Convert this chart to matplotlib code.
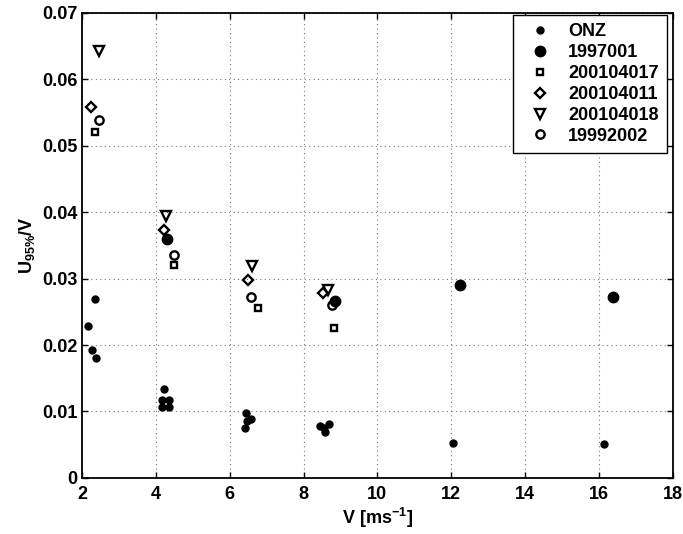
import matplotlib
matplotlib.use("Agg")
from matplotlib import pyplot as plt

plt.rcParams['font.family'] = ['Liberation Sans', 'DejaVu Sans']
plt.rcParams['font.weight'] = 'bold'
plt.rcParams['mathtext.fontset'] = 'custom'
plt.rcParams['mathtext.rm'] = 'Liberation Sans:bold'
plt.rcParams['mathtext.bf'] = 'Liberation Sans:bold'
plt.rcParams['mathtext.default'] = 'bf'

# ONZ
onz_v = [2.35, 2.17, 2.28, 2.38, 4.21, 4.16, 4.37, 4.16, 4.37,
         6.44, 6.47, 6.58, 6.42, 8.45, 8.55, 8.68, 8.58, 12.06, 16.15]
onz_u = [0.0269, 0.0229, 0.0193, 0.0181, 0.01335, 0.0118, 0.0118, 0.0106, 0.0106,
         0.0098, 0.0085, 0.0088, 0.0075, 0.0078, 0.0075, 0.0081, 0.0069, 0.0053, 0.0051]

# 1997001
s1997_v = [4.29, 8.86, 12.24, 16.37]
s1997_u = [0.0359, 0.0266, 0.0291, 0.0273]

# 200104017
s017_v = [2.35, 4.48, 6.78, 8.83]
s017_u = [0.0520, 0.0321, 0.0256, 0.0226]

# 200104011
s011_v = [2.24, 4.23, 6.51, 8.54]
s011_u = [0.0559, 0.0373, 0.0298, 0.0279]

# 200104018
s018_v = [2.46, 4.27, 6.60, 8.66]
s018_u = [0.0642, 0.0394, 0.0319, 0.0283]

# 19992002
s1999_v = [2.46, 4.48, 6.58, 8.77]
s1999_u = [0.0539, 0.0336, 0.0273, 0.0261]

fig = plt.figure(figsize=(6.83, 5.34), dpi=100)
ax = fig.add_axes([0.120, 0.105, 0.865, 0.871])

ax.plot(onz_v, onz_u, 'o', color='k', markersize=5, label='ONZ')
ax.plot(s1997_v, s1997_u, 'o', color='k', markersize=7.5, label='1997001')
ax.plot(s017_v, s017_u, 's', mfc='none', mec='k', mew=1.7, markersize=5, label='200104017')
ax.plot(s011_v, s011_u, 'D', mfc='none', mec='k', mew=1.7, markersize=5, label='200104011')
ax.plot(s018_v, s018_u, 'v', mfc='none', mec='k', mew=1.7, markersize=6.5, label='200104018')
ax.plot(s1999_v, s1999_u, 'o', mfc='none', mec='k', mew=1.7, markersize=6, label='19992002')

ax.set_xlim(2, 18)
ax.set_ylim(0, 0.07)
ax.set_xticks(range(2, 19, 2))
ax.set_yticks([0, 0.01, 0.02, 0.03, 0.04, 0.05, 0.06, 0.07])
ax.set_yticklabels(['0', '0.01', '0.02', '0.03', '0.04', '0.05', '0.06', '0.07'])
ax.tick_params(direction='in', labelsize=13, width=1, length=4.5,
               top=True, right=True)
ax.tick_params(axis='x', pad=6)
ax.tick_params(axis='y', pad=3)
ax.grid(True, linestyle=(0, (1, 3)), color='#777777', linewidth=0.8)
for sp in ax.spines.values():
    sp.set_linewidth(1.3)

ax.set_xlabel(r'V [ms$^{-1}$]', fontsize=13, fontweight='bold', labelpad=2)
ax.set_ylabel(r'U$_{95\%}$/V', fontsize=13, fontweight='bold', labelpad=4)

leg = ax.legend(loc='upper right', bbox_to_anchor=(0.9898, 0.9957), fontsize=13,
                frameon=True, fancybox=False, edgecolor='k', framealpha=1,
                borderpad=0.45, labelspacing=0.22, handlelength=2.1,
                handletextpad=0.5, borderaxespad=0)
leg.get_frame().set_linewidth(1.0)
for t in leg.get_texts():
    t.set_fontweight('bold')

fig.savefig('out.png', dpi=100)
